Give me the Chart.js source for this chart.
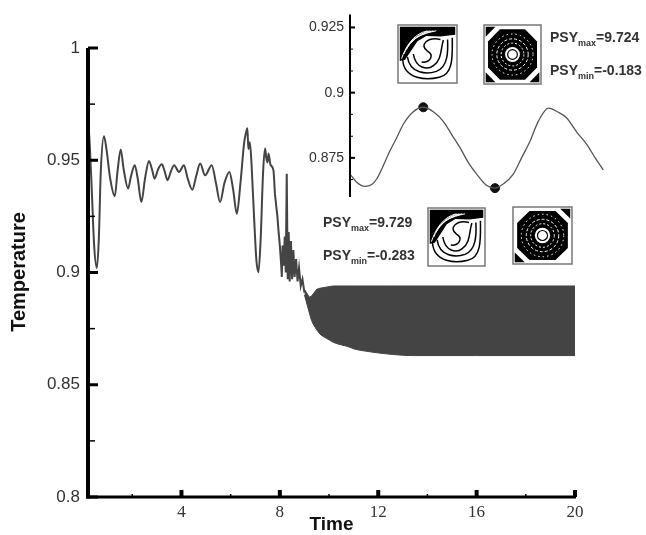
<!DOCTYPE html>
<html>
<head>
<meta charset="utf-8">
<script src="https://cdn.jsdelivr.net/npm/chart.js@4.4.1/dist/chart.umd.min.js"></script>
<style>
body{margin:0;background:#fff;}
#wrap{position:relative;width:646px;height:535px;}
canvas{position:absolute;left:0;top:0;}
.psy{position:absolute;font:bold 14px "Liberation Sans",Arial,sans-serif;line-height:16px;color:#333;white-space:nowrap;}
.psy sub{font-size:9px;vertical-align:baseline;position:relative;top:4px;}
</style>
</head>
<body>
<div id="wrap">
<canvas id="mainChart" width="646" height="535"></canvas>
<canvas id="insetChart" width="646" height="535"></canvas>
<div class="psy" style="left:550px;top:29px">PSY<sub>max</sub>=9.724</div>
<div class="psy" style="left:550px;top:62px">PSY<sub>min</sub>=-0.183</div>
<div class="psy" style="left:323px;top:214px">PSY<sub>max</sub>=9.729</div>
<div class="psy" style="left:323px;top:247px">PSY<sub>min</sub>=-0.283</div>
</div>
<script>
// main curve, smooth transient part (time, temperature)
var timeEarly = [0.20,0.28,0.36,0.45,0.56,0.64,0.72,0.85,0.95,1.10,1.29,1.40,1.53,1.65,1.83,1.95,2.10,2.22,2.37,2.52,
  2.68,2.80,2.91,3.05,3.20,3.32,3.43,3.57,3.70,3.90,4.10,4.25,4.44,4.60,4.76,4.96,5.23,5.40,5.57,5.75,
  5.95,6.10,6.25,6.40,6.55,6.62,6.68,6.72,6.78,6.85,6.95,7.05,7.13,7.22,7.32,7.40,7.45,7.50,7.54,7.62,
  7.74,7.80];
var tempEarly = [0.969,0.955,0.935,0.912,0.902,0.915,0.945,0.9607,0.955,0.942,0.934,0.945,0.9548,0.946,0.9374,0.943,0.9478,0.942,0.9314,0.942,
  0.9497,0.946,0.9418,0.946,0.9482,0.945,0.9411,0.945,0.9478,0.9448,0.9478,0.942,0.9369,0.943,0.9485,0.9433,0.9478,0.940,0.9314,0.940,
  0.9448,0.937,0.9262,0.940,0.958,0.962,0.9642,0.955,0.958,0.948,0.925,0.905,0.9001,0.915,0.945,0.9552,0.951,0.949,0.953,0.948,
  0.9455,0.935];

// noisy drop towards the periodic regime
var timeNoise = [7.80,7.90,7.95,8.00,8.05,8.08,8.11,8.15,8.20,8.24,8.28,8.32,8.36,8.40,8.45,8.50,8.55,8.60,8.66,
  8.72,8.78,8.85,8.92,9.00];
var tempNoise = [0.935,0.925,0.918,0.912,0.904,0.898,0.912,0.903,0.916,0.900,0.944,0.897,0.918,0.896,0.914,0.897,0.910,0.898,0.906,
  0.896,0.902,0.894,0.897,0.891];

// periodic regime: envelope of the fast oscillation
var timeBand  = [9.00,9.20,9.29,9.50,9.63,10.00,10.17,10.85,11.00,11.53,12.30,13.40,16.00,20.00];
var bandUpper = [0.8925,0.889,0.8895,0.8925,0.893,0.8937,0.894,0.894,0.894,0.894,0.894,0.894,0.894,0.894];
var bandLower = [0.890,0.882,0.8786,0.8745,0.8726,0.870,0.8689,0.8667,0.8660,0.8649,0.8638,0.863,0.863,0.863];

// inset: one window of the periodic regime
var insetTime = [0.00,0.067,0.15,0.217,0.267,0.40,0.467,0.533,0.633,0.733,0.833,0.933,1.017,1.10,1.183,1.267,1.367,1.45,
  1.533,1.633,1.717,1.80,1.883,1.983,2.083,2.167,2.267,2.367,2.45,2.533];
var insetTemp = [0.8688,0.8657,0.8641,0.8648,0.8669,0.8777,0.8827,0.8879,0.8927,0.8944,0.8927,0.8890,0.8839,0.8789,0.8732,0.8688,0.8644,0.8634,
  0.8650,0.8688,0.8751,0.8814,0.8890,0.8941,0.8925,0.8903,0.8849,0.8802,0.8751,0.8704];
var markTime = [0.733,1.45];
var markTemp = [0.8944,0.8634];

// ticks
var xMajor = [4,8,12,16,20];
var xMinor = [2,6,10,14,18];
var yMajor = [0.8,0.85,0.9,0.95,1];
var yMinor = [0.825,0.875,0.925,0.975];
var yLabels = ["0.8","0.85","0.9","0.95","1"];
var inMajor = [0.875,0.9,0.925];
var inMinor = [0.8667,0.8833,0.8917,0.9083,0.9167];
var inLabels = ["0.875","0.9","0.925"];

function pts(xs, ys){ return xs.map(function(x,i){ return {x:x, y:ys[i]}; }); }

var SANS = '"Liberation Sans", Arial, sans-serif';
var SERIF = '"Liberation Serif", "Times New Roman", serif';

// axes drawn by hand, ticks pointing inward
var axesPlugin = {
  id: 'axesPlugin',
  afterDraw: function(chart, args, o){
    var ctx = chart.ctx, a = chart.chartArea;
    var xs = chart.scales.x, ys = chart.scales.y;
    ctx.save();
    ctx.strokeStyle = '#000';
    ctx.lineCap = 'butt';
    if (o.xLine){
      ctx.lineWidth = o.xLine;
      ctx.beginPath(); ctx.moveTo(a.left - o.yLine/2, a.bottom); ctx.lineTo(a.right + 1, a.bottom); ctx.stroke();
    }
    ctx.lineWidth = o.yLine;
    ctx.beginPath(); ctx.moveTo(a.left, a.top); ctx.lineTo(a.left, a.bottom + (o.xLine ? o.xLine/2 : 0)); ctx.stroke();
    (o.xTicks || []).forEach(function(t){
      t.vals.forEach(function(v){
        var px = xs.getPixelForValue(v);
        ctx.lineWidth = t.w;
        ctx.beginPath(); ctx.moveTo(px, a.bottom); ctx.lineTo(px, a.bottom - t.len); ctx.stroke();
      });
    });
    (o.yTicks || []).forEach(function(t){
      t.vals.forEach(function(v){
        var py = ys.getPixelForValue(v);
        ctx.lineWidth = t.w;
        ctx.beginPath(); ctx.moveTo(a.left, py); ctx.lineTo(a.left + t.len, py); ctx.stroke();
      });
    });
    // axis titles
    ctx.fillStyle = '#111';
    if (o.xTitle){
      ctx.font = 'bold 19px ' + SANS;
      ctx.textAlign = 'center'; ctx.textBaseline = 'middle';
      ctx.fillText(o.xTitle, (a.left + a.right)/2, 525);
    }
    if (o.yTitle){
      ctx.save();
      ctx.translate(19, 272);
      ctx.rotate(-Math.PI/2);
      ctx.font = 'bold 20px ' + SANS;
      ctx.textAlign = 'center'; ctx.textBaseline = 'middle';
      ctx.fillText(o.yTitle, 0, 0);
      ctx.restore();
    }
    ctx.restore();
  }
};

// small streamline pictures
function thumbS(ctx, x, y, w, h){
  function P(u,v){ return [x + u*w, y + v*h]; }
  function mv(u,v){ var p=P(u,v); ctx.moveTo(p[0],p[1]); }
  function ln(u,v){ var p=P(u,v); ctx.lineTo(p[0],p[1]); }
  function bz(a,b,c,d,e,f){ var p1=P(a,b),p2=P(c,d),p3=P(e,f); ctx.bezierCurveTo(p1[0],p1[1],p2[0],p2[1],p3[0],p3[1]); }
  ctx.save();
  ctx.fillStyle = '#fff'; ctx.fillRect(x, y, w, h);
  ctx.fillStyle = '#000';
  ctx.beginPath();
  mv(0.03,0.03); ln(0.97,0.03); ln(0.97,0.17); ln(0.72,0.2); ln(0.48,0.19); ln(0.33,0.28); ln(0.22,0.45); ln(0.12,0.6); ln(0.03,0.62);
  ctx.closePath(); ctx.fill();
  ctx.strokeStyle = '#fff'; ctx.lineWidth = 1;
  for (var k=0;k<4;k++){
    ctx.beginPath(); mv(0.06+k*0.04,0.58-k*0.08); bz(0.12+k*0.05,0.4-k*0.06,0.25+k*0.05,0.15,0.5+k*0.05,0.1); ctx.stroke();
  }
  ctx.strokeStyle = '#000'; ctx.lineWidth = 1.5;
  ctx.beginPath(); mv(0.08,0.6); bz(0.1,0.95,0.5,0.95,0.7,0.9); bz(0.95,0.85,0.92,0.5,0.92,0.22); ctx.stroke();
  ctx.beginPath(); mv(0.16,0.55); bz(0.2,0.85,0.5,0.85,0.65,0.8); bz(0.85,0.72,0.85,0.45,0.84,0.25); ctx.stroke();
  ctx.beginPath(); mv(0.26,0.5); bz(0.3,0.75,0.5,0.78,0.6,0.7); bz(0.75,0.6,0.72,0.4,0.77,0.26); ctx.stroke();
  ctx.beginPath(); mv(0.72,0.25); bz(0.5,0.2,0.35,0.35,0.5,0.45); bz(0.62,0.52,0.55,0.65,0.4,0.64); ctx.stroke();
  ctx.strokeStyle = '#777'; ctx.lineWidth = 1.5;
  ctx.strokeRect(x, y, w, h);
  ctx.restore();
}

function thumbRing(ctx, x, y, w, h, corners){
  function P(u,v){ return [x + u*w, y + v*h]; }
  var cx = x + w/2, cy = y + h/2, r = w/2;
  ctx.save();
  ctx.fillStyle = '#fff'; ctx.fillRect(x, y, w, h);
  ctx.fillStyle = '#000';
  var oct = [[0.28,0.07],[0.72,0.07],[0.93,0.28],[0.93,0.72],[0.72,0.93],[0.28,0.93],[0.07,0.72],[0.07,0.28]];
  ctx.beginPath();
  oct.forEach(function(q,i){ var p=P(q[0],q[1]); if(i) ctx.lineTo(p[0],p[1]); else ctx.moveTo(p[0],p[1]); });
  ctx.closePath(); ctx.fill();
  ctx.strokeStyle = '#fff';
  ctx.lineWidth = 1; ctx.setLineDash([1.5,3]);
  ctx.beginPath(); ctx.arc(cx, cy, r*0.72, 0, Math.PI*2); ctx.stroke();
  ctx.setLineDash([3,2]);
  ctx.beginPath(); ctx.arc(cx, cy, r*0.55, 0, Math.PI*2); ctx.stroke();
  ctx.setLineDash([2,2]);
  ctx.beginPath(); ctx.arc(cx, cy, r*0.4, 0, Math.PI*2); ctx.stroke();
  ctx.setLineDash([]);
  ctx.fillStyle = '#fff';
  ctx.beginPath(); ctx.arc(cx, cy, r*0.26, 0, Math.PI*2); ctx.fill();
  ctx.strokeStyle = '#000'; ctx.lineWidth = 1.2;
  ctx.beginPath(); ctx.arc(cx, cy, r*0.17, 0, Math.PI*2); ctx.stroke();
  ctx.fillStyle = '#000';
  corners.forEach(function(c){
    var tri;
    if (c === 'tl') tri = [[0.03,0.03],[0.2,0.03],[0.03,0.2]];
    if (c === 'tr') tri = [[0.97,0.03],[0.8,0.03],[0.97,0.2]];
    if (c === 'bl') tri = [[0.03,0.97],[0.2,0.97],[0.03,0.8]];
    if (c === 'br') tri = [[0.97,0.97],[0.8,0.97],[0.97,0.8]];
    ctx.beginPath();
    tri.forEach(function(q,i){ var p=P(q[0],q[1]); if(i) ctx.lineTo(p[0],p[1]); else ctx.moveTo(p[0],p[1]); });
    ctx.closePath(); ctx.fill();
  });
  ctx.strokeStyle = '#777'; ctx.lineWidth = 1.5;
  ctx.strokeRect(x, y, w, h);
  ctx.restore();
}

var thumbsPlugin = {
  id: 'thumbsPlugin',
  afterDraw: function(chart){
    var ctx = chart.ctx;
    thumbS(ctx, 398, 25, 59, 58);
    thumbRing(ctx, 484, 25, 57, 59, ['tl','bl','br']);
    thumbS(ctx, 428, 208, 57, 58);
    thumbRing(ctx, 513, 207, 59, 57, ['tr','bl']);
  }
};

new Chart(document.getElementById('mainChart'), {
  type: 'line',
  data: {
    datasets: [{
      data: pts(timeEarly, tempEarly),
      borderColor: '#444', borderWidth: 2, pointRadius: 0, fill: false,
      cubicInterpolationMode: 'monotone'
    }, {
      data: pts(timeNoise, tempNoise),
      borderColor: '#444', borderWidth: 2, pointRadius: 0, fill: false
    }, {
      data: pts(timeBand, bandUpper),
      borderColor: '#444', borderWidth: 1, pointRadius: 0, fill: false
    }, {
      data: pts(timeBand, bandLower),
      borderColor: '#444', borderWidth: 1, pointRadius: 0,
      fill: '-1', backgroundColor: '#444', cubicInterpolationMode: 'monotone'
    }]
  },
  options: {
    responsive: false, animation: false,
    layout: { padding: { left: 0, right: 71, top: 48, bottom: 0 } },
    plugins: {
      legend: { display: false }, tooltip: { enabled: false },
      axesPlugin: {
        xLine: 3, yLine: 4,
        xTicks: [{ vals: xMajor, len: 7, w: 4 }, { vals: xMinor, len: 3, w: 1.5 }],
        yTicks: [{ vals: yMajor, len: 10, w: 3 }, { vals: yMinor, len: 7, w: 1.5 }],
        xTitle: 'Time', yTitle: 'Temperature'
      }
    },
    scales: {
      x: {
        type: 'linear', min: 0.2, max: 20,
        grid: { display: false, drawTicks: false }, border: { display: false },
        afterBuildTicks: function(s){ s.ticks = xMajor.map(function(v){ return {value: v}; }); },
        afterFit: function(s){ s.height = 38; },
        ticks: { padding: 5, color: '#333', font: { family: SERIF, size: 17 }, maxRotation: 0,
          callback: function(v){ return String(v); } }
      },
      y: {
        min: 0.8, max: 1,
        grid: { display: false, drawTicks: false }, border: { display: false },
        afterBuildTicks: function(s){ s.ticks = yMajor.map(function(v){ return {value: v}; }); },
        afterFit: function(s){ s.width = 88; },
        ticks: { padding: 8, color: '#333', font: { family: SANS, size: 17 },
          callback: function(v){ var i = yMajor.findIndex(function(m){ return Math.abs(m - v) < 1e-6; }); return i >= 0 ? yLabels[i] : ''; } }
      }
    }
  },
  plugins: [axesPlugin]
});

new Chart(document.getElementById('insetChart'), {
  type: 'line',
  data: {
    datasets: [{
      data: pts(insetTime, insetTemp),
      borderColor: '#555', borderWidth: 1.3, pointRadius: 0, fill: false,
      cubicInterpolationMode: 'monotone'
    }, {
      data: pts(markTime, markTemp),
      showLine: false, pointRadius: 4.5, pointBackgroundColor: '#111', pointBorderColor: '#111'
    }]
  },
  options: {
    responsive: false, animation: false,
    layout: { padding: { left: 300, right: 41, top: 12, bottom: 338 } },
    plugins: {
      legend: { display: false }, tooltip: { enabled: false },
      axesPlugin: {
        xLine: 0, yLine: 2,
        yTicks: [{ vals: inMajor, len: 5, w: 2 }, { vals: inMinor, len: 3, w: 1 }]
      }
    },
    scales: {
      x: { type: 'linear', min: 0, max: 2.55, display: false },
      y: {
        min: 0.86, max: 0.93,
        grid: { display: false, drawTicks: false }, border: { display: false },
        afterBuildTicks: function(s){ s.ticks = inMajor.map(function(v){ return {value: v}; }); },
        afterFit: function(s){ s.width = 50; },
        ticks: { padding: 6, color: '#333', font: { family: SANS, size: 14 },
          callback: function(v){ var i = inMajor.findIndex(function(m){ return Math.abs(m - v) < 1e-6; }); return i >= 0 ? inLabels[i] : ''; } }
      }
    }
  },
  plugins: [axesPlugin, thumbsPlugin]
});
</script>
</body>
</html>
